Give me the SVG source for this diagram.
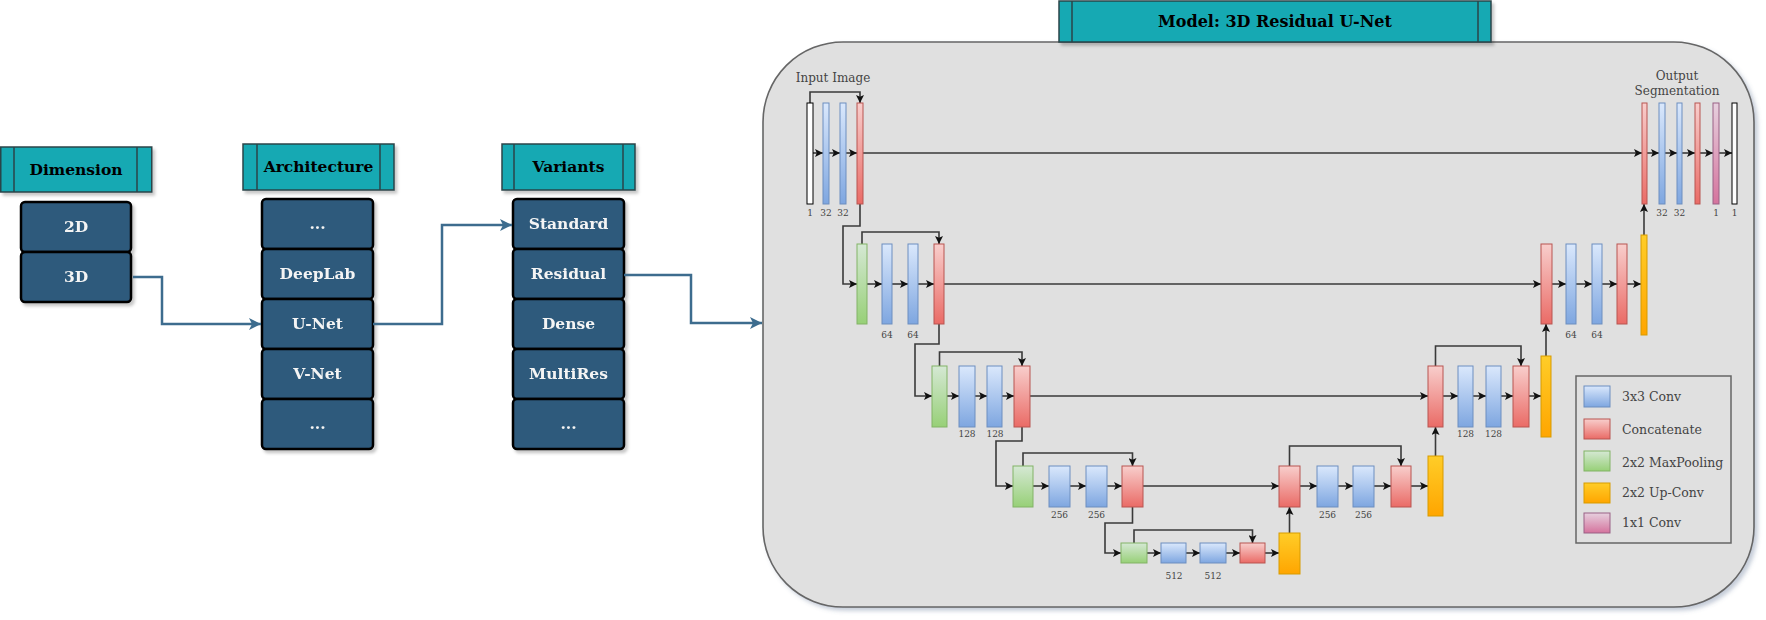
<svg xmlns="http://www.w3.org/2000/svg" width="1766" height="620" viewBox="0 0 1766 620">
  <defs>
    <style>
      .hdr { fill: #13a9b3; stroke: #2b4549; stroke-width: 1.5; }
      .hdr-line { stroke: #2b4549; stroke-width: 1.5; }
      .hdr-text { font-family: "DejaVu Serif", serif; font-weight: bold; font-size: 15.5px; fill: #000; text-anchor: middle; }
      .item { fill: #2e5a7b; stroke: #000; stroke-width: 2.5; }
      .item-text { font-family: "DejaVu Serif", serif; font-weight: bold; font-size: 15.5px; fill: #f4f4f4; text-anchor: middle; }
      .flow { fill: none; stroke: #3d6c8e; stroke-width: 2.5; }
      .net { fill: none; stroke: #3a3a3a; stroke-width: 1.6; }
      .bar { stroke-width: 1; }
      .conv { fill: url(#gBlue); stroke: #6c8ebf; }
      .cat { fill: url(#gRed); stroke: #b85450; }
      .pool { fill: url(#gGreen); stroke: #82b366; }
      .up { fill: url(#gOrange); stroke: #d79b00; }
      .one { fill: url(#gPink); stroke: #996185; }
      .img { fill: #ffffff; stroke: #000; }
      .lbl { font-family: "DejaVu Serif", serif; font-size: 9px; fill: #444; text-anchor: middle; }
      .cap { font-family: "DejaVu Serif", serif; font-size: 12px; fill: #444; text-anchor: middle; }
      .leg { font-family: "DejaVu Serif", serif; font-size: 12.5px; fill: #444; }
    </style>
    <linearGradient id="gBlue" x1="0" y1="0" x2="0" y2="1"><stop offset="0" stop-color="#dae8fc"/><stop offset="1" stop-color="#7ea6e0"/></linearGradient>
    <linearGradient id="gRed" x1="0" y1="0" x2="0" y2="1"><stop offset="0" stop-color="#f8cecc"/><stop offset="1" stop-color="#ea6b66"/></linearGradient>
    <linearGradient id="gGreen" x1="0" y1="0" x2="0" y2="1"><stop offset="0" stop-color="#d5e8d4"/><stop offset="1" stop-color="#97d077"/></linearGradient>
    <linearGradient id="gOrange" x1="0" y1="0" x2="0" y2="1"><stop offset="0" stop-color="#ffcd28"/><stop offset="1" stop-color="#ffa500"/></linearGradient>
    <linearGradient id="gPink" x1="0" y1="0" x2="0" y2="1"><stop offset="0" stop-color="#e6d0de"/><stop offset="1" stop-color="#d5739d"/></linearGradient>
    <filter id="shadow" x="-10%" y="-10%" width="130%" height="130%">
      <feDropShadow dx="2.5" dy="3" stdDeviation="1.5" flood-color="#000" flood-opacity="0.22"/>
    </filter>
    <filter id="shadowBox" x="-5%" y="-5%" width="110%" height="110%">
      <feDropShadow dx="3" dy="3" stdDeviation="2" flood-color="#5a7090" flood-opacity="0.35"/>
    </filter>
    <marker id="arrBlue" markerUnits="userSpaceOnUse" markerWidth="13" markerHeight="12" refX="12" refY="6" orient="auto">
      <path d="M0,0 L12,6 L0,12 L3,6 Z" fill="#3d6c8e"/>
    </marker>
    <marker id="arr" markerUnits="userSpaceOnUse" markerWidth="8" markerHeight="8" refX="8" refY="4" orient="auto">
      <path d="M0,0 L8,4 L0,8 L1.8,4 Z" fill="#111"/>
    </marker>
  </defs>

  <!-- left-hand selection columns -->
  <g id="dimension">
    <g filter="url(#shadow)">
      <rect class="hdr" x="0.75" y="147" width="151" height="45"/>
    </g>
    <line class="hdr-line" x1="14" y1="147" x2="14" y2="192"/>
    <line class="hdr-line" x1="137" y1="147" x2="137" y2="192"/>
    <text class="hdr-text" x="76" y="175">Dimension</text>
  </g>
  <g id="dim-2d" filter="url(#shadow)">
    <rect class="item" x="21" y="202" width="110" height="50" rx="4"/>
    <text class="item-text" x="76" y="232">2D</text>
  </g>
  <g id="dim-3d" filter="url(#shadow)">
    <rect class="item" x="21" y="252" width="110" height="50" rx="4"/>
    <text class="item-text" x="76" y="282">3D</text>
  </g>

  <g id="architecture">
    <g filter="url(#shadow)">
      <rect class="hdr" x="243" y="144" width="151" height="46"/>
    </g>
    <line class="hdr-line" x1="257" y1="144" x2="257" y2="190"/>
    <line class="hdr-line" x1="380" y1="144" x2="380" y2="190"/>
    <text class="hdr-text" x="318.5" y="172">Architecture</text>
  </g>
  <g id="arch-more-top" filter="url(#shadow)">
    <rect class="item" x="262" y="199" width="111" height="50" rx="4"/>
    <text class="item-text" x="317.5" y="229">...</text>
  </g>
  <g id="arch-deeplab" filter="url(#shadow)">
    <rect class="item" x="262" y="249" width="111" height="50" rx="4"/>
    <text class="item-text" x="317.5" y="279">DeepLab</text>
  </g>
  <g id="arch-unet" filter="url(#shadow)">
    <rect class="item" x="262" y="299" width="111" height="50" rx="4"/>
    <text class="item-text" x="317.5" y="329">U-Net</text>
  </g>
  <g id="arch-vnet" filter="url(#shadow)">
    <rect class="item" x="262" y="349" width="111" height="50" rx="4"/>
    <text class="item-text" x="317.5" y="379">V-Net</text>
  </g>
  <g id="arch-more-bottom" filter="url(#shadow)">
    <rect class="item" x="262" y="399" width="111" height="50" rx="4"/>
    <text class="item-text" x="317.5" y="429">...</text>
  </g>

  <g id="variants">
    <g filter="url(#shadow)">
      <rect class="hdr" x="502" y="144" width="133" height="46"/>
    </g>
    <line class="hdr-line" x1="514" y1="144" x2="514" y2="190"/>
    <line class="hdr-line" x1="623" y1="144" x2="623" y2="190"/>
    <text class="hdr-text" x="568.5" y="172">Variants</text>
  </g>
  <g id="var-standard" filter="url(#shadow)">
    <rect class="item" x="513" y="199" width="111" height="50" rx="4"/>
    <text class="item-text" x="568.5" y="229">Standard</text>
  </g>
  <g id="var-residual" filter="url(#shadow)">
    <rect class="item" x="513" y="249" width="111" height="50" rx="4"/>
    <text class="item-text" x="568.5" y="279">Residual</text>
  </g>
  <g id="var-dense" filter="url(#shadow)">
    <rect class="item" x="513" y="299" width="111" height="50" rx="4"/>
    <text class="item-text" x="568.5" y="329">Dense</text>
  </g>
  <g id="var-multires" filter="url(#shadow)">
    <rect class="item" x="513" y="349" width="111" height="50" rx="4"/>
    <text class="item-text" x="568.5" y="379">MultiRes</text>
  </g>
  <g id="var-more" filter="url(#shadow)">
    <rect class="item" x="513" y="399" width="111" height="50" rx="4"/>
    <text class="item-text" x="568.5" y="429">...</text>
  </g>

  <!-- selection flow -->
  <g id="flow-connectors">
    <path class="flow" d="M133,277 H162 V324 H261" marker-end="url(#arrBlue)"/>
    <path class="flow" d="M373,324 H442 V225 H512" marker-end="url(#arrBlue)"/>
    <path class="flow" d="M624,275 H691 V323 H762" marker-end="url(#arrBlue)"/>
  </g>

  <!-- model panel -->
  <g id="model">
    <rect x="763" y="42" width="991" height="565" rx="80" ry="80" fill="#e0e0e0" stroke="#666" stroke-width="1.6" filter="url(#shadowBox)"/>
    <g filter="url(#shadow)">
      <rect class="hdr" x="1059" y="1" width="432" height="41"/>
    </g>
    <line class="hdr-line" x1="1072" y1="1" x2="1072" y2="42"/>
    <line class="hdr-line" x1="1478" y1="1" x2="1478" y2="42"/>
    <text class="hdr-text" x="1275" y="27" style="font-size:16px">Model: 3D Residual U-Net</text>
  </g>

  <!-- network connectors -->
  <g id="net-connectors">
    <!-- level 1 encoder -->
    <path class="net" d="M813,153 H823" marker-end="url(#arr)"/>
    <path class="net" d="M829,153 H840" marker-end="url(#arr)"/>
    <path class="net" d="M846,153 H857" marker-end="url(#arr)"/>
    <path class="net" d="M810,103 V92 H860 V103" marker-end="url(#arr)"/>
    <path class="net" d="M863,153 H1642" marker-end="url(#arr)"/>
    <path class="net" d="M860,204 V226 H843 V284 H857" marker-end="url(#arr)"/>
    <!-- level 2 encoder -->
    <path class="net" d="M867,284 H882" marker-end="url(#arr)"/>
    <path class="net" d="M892,284 H908" marker-end="url(#arr)"/>
    <path class="net" d="M918,284 H934" marker-end="url(#arr)"/>
    <path class="net" d="M862,244 V232 H939 V244" marker-end="url(#arr)"/>
    <path class="net" d="M944,284 H1541" marker-end="url(#arr)"/>
    <path class="net" d="M939,324 V344 H915 V396 H932" marker-end="url(#arr)"/>
    <!-- level 3 encoder -->
    <path class="net" d="M947,396 H959" marker-end="url(#arr)"/>
    <path class="net" d="M975,396 H987" marker-end="url(#arr)"/>
    <path class="net" d="M1002,396 H1014" marker-end="url(#arr)"/>
    <path class="net" d="M939.5,366 V352 H1022 V366" marker-end="url(#arr)"/>
    <path class="net" d="M1030,396 H1428" marker-end="url(#arr)"/>
    <path class="net" d="M1022,427 V441 H996 V486 H1013" marker-end="url(#arr)"/>
    <!-- level 4 encoder -->
    <path class="net" d="M1033,486 H1049" marker-end="url(#arr)"/>
    <path class="net" d="M1070,486 H1086" marker-end="url(#arr)"/>
    <path class="net" d="M1107,486 H1122" marker-end="url(#arr)"/>
    <path class="net" d="M1023,466 V453 H1132.5 V466" marker-end="url(#arr)"/>
    <path class="net" d="M1143,486 H1279" marker-end="url(#arr)"/>
    <path class="net" d="M1132.5,507 V523 H1105 V553 H1121" marker-end="url(#arr)"/>
    <!-- bottleneck -->
    <path class="net" d="M1147,553 H1161" marker-end="url(#arr)"/>
    <path class="net" d="M1186,553 H1200" marker-end="url(#arr)"/>
    <path class="net" d="M1226,553 H1240" marker-end="url(#arr)"/>
    <path class="net" d="M1265,553 H1279" marker-end="url(#arr)"/>
    <path class="net" d="M1134,543 V530 H1252.5 V543" marker-end="url(#arr)"/>
    <path class="net" d="M1289.5,533 V507" marker-end="url(#arr)"/>
    <!-- level 4 decoder -->
    <path class="net" d="M1300,486 H1317" marker-end="url(#arr)"/>
    <path class="net" d="M1338,486 H1353" marker-end="url(#arr)"/>
    <path class="net" d="M1374,486 H1391" marker-end="url(#arr)"/>
    <path class="net" d="M1411,486 H1428" marker-end="url(#arr)"/>
    <path class="net" d="M1289.5,466 V446 H1401 V466" marker-end="url(#arr)"/>
    <path class="net" d="M1435.5,456 V427" marker-end="url(#arr)"/>
    <!-- level 3 decoder -->
    <path class="net" d="M1443,396 H1458" marker-end="url(#arr)"/>
    <path class="net" d="M1473,396 H1486" marker-end="url(#arr)"/>
    <path class="net" d="M1501,396 H1513" marker-end="url(#arr)"/>
    <path class="net" d="M1529,396 H1541" marker-end="url(#arr)"/>
    <path class="net" d="M1435.5,366 V346 H1521 V366" marker-end="url(#arr)"/>
    <path class="net" d="M1546,356 V324" marker-end="url(#arr)"/>
    <!-- level 2 decoder -->
    <path class="net" d="M1552,284 H1566" marker-end="url(#arr)"/>
    <path class="net" d="M1576,284 H1592" marker-end="url(#arr)"/>
    <path class="net" d="M1602,284 H1617" marker-end="url(#arr)"/>
    <path class="net" d="M1627,284 H1641" marker-end="url(#arr)"/>
    <path class="net" d="M1644,235 V204" marker-end="url(#arr)"/>
    <!-- level 1 decoder -->
    <path class="net" d="M1647,153 H1659" marker-end="url(#arr)"/>
    <path class="net" d="M1665,153 H1677" marker-end="url(#arr)"/>
    <path class="net" d="M1682,153 H1695" marker-end="url(#arr)"/>
    <path class="net" d="M1700,153 H1713" marker-end="url(#arr)"/>
    <path class="net" d="M1719,153 H1732" marker-end="url(#arr)"/>
  </g>

  <!-- encoder level 1 -->
  <g id="enc1">
    <text class="cap" x="833" y="82">Input Image</text>
    <rect class="bar img" x="807" y="103" width="6" height="101"/>
    <rect class="bar conv" x="823" y="103" width="6" height="101"/>
    <rect class="bar conv" x="840" y="103" width="6" height="101"/>
    <rect class="bar cat" x="857" y="103" width="6" height="101"/>
    <text class="lbl" x="810" y="216">1</text>
    <text class="lbl" x="826" y="216">32</text>
    <text class="lbl" x="843" y="216">32</text>
  </g>
  <!-- encoder level 2 -->
  <g id="enc2">
    <rect class="bar pool" x="857" y="244" width="10" height="80"/>
    <rect class="bar conv" x="882" y="244" width="10" height="80"/>
    <rect class="bar conv" x="908" y="244" width="10" height="80"/>
    <rect class="bar cat" x="934" y="244" width="10" height="80"/>
    <text class="lbl" x="887" y="338">64</text>
    <text class="lbl" x="913" y="338">64</text>
  </g>
  <!-- encoder level 3 -->
  <g id="enc3">
    <rect class="bar pool" x="932" y="366" width="15" height="61"/>
    <rect class="bar conv" x="959" y="366" width="16" height="61"/>
    <rect class="bar conv" x="987" y="366" width="15" height="61"/>
    <rect class="bar cat" x="1014" y="366" width="16" height="61"/>
    <text class="lbl" x="967" y="437">128</text>
    <text class="lbl" x="995" y="437">128</text>
  </g>
  <!-- encoder level 4 -->
  <g id="enc4">
    <rect class="bar pool" x="1013" y="466" width="20" height="41"/>
    <rect class="bar conv" x="1049" y="466" width="21" height="41"/>
    <rect class="bar conv" x="1086" y="466" width="21" height="41"/>
    <rect class="bar cat" x="1122" y="466" width="21" height="41"/>
    <text class="lbl" x="1059.5" y="518">256</text>
    <text class="lbl" x="1096.5" y="518">256</text>
  </g>
  <!-- bottleneck -->
  <g id="bottleneck">
    <rect class="bar pool" x="1121" y="543" width="26" height="20"/>
    <rect class="bar conv" x="1161" y="543" width="25" height="20"/>
    <rect class="bar conv" x="1200" y="543" width="26" height="20"/>
    <rect class="bar cat" x="1240" y="543" width="25" height="20"/>
    <rect class="bar up" x="1279" y="533" width="21" height="41"/>
    <text class="lbl" x="1174" y="579">512</text>
    <text class="lbl" x="1213" y="579">512</text>
  </g>
  <!-- decoder level 4 -->
  <g id="dec4">
    <rect class="bar cat" x="1279" y="466" width="21" height="41"/>
    <rect class="bar conv" x="1317" y="466" width="21" height="41"/>
    <rect class="bar conv" x="1353" y="466" width="21" height="41"/>
    <rect class="bar cat" x="1391" y="466" width="20" height="41"/>
    <rect class="bar up" x="1428" y="456" width="15" height="60"/>
    <text class="lbl" x="1327.5" y="518">256</text>
    <text class="lbl" x="1363.5" y="518">256</text>
  </g>
  <!-- decoder level 3 -->
  <g id="dec3">
    <rect class="bar cat" x="1428" y="366" width="15" height="61"/>
    <rect class="bar conv" x="1458" y="366" width="15" height="61"/>
    <rect class="bar conv" x="1486" y="366" width="15" height="61"/>
    <rect class="bar cat" x="1513" y="366" width="16" height="61"/>
    <rect class="bar up" x="1541" y="356" width="10" height="81"/>
    <text class="lbl" x="1465.5" y="437">128</text>
    <text class="lbl" x="1493.5" y="437">128</text>
  </g>
  <!-- decoder level 2 -->
  <g id="dec2">
    <rect class="bar cat" x="1541" y="244" width="11" height="80"/>
    <rect class="bar conv" x="1566" y="244" width="10" height="80"/>
    <rect class="bar conv" x="1592" y="244" width="10" height="80"/>
    <rect class="bar cat" x="1617" y="244" width="10" height="80"/>
    <rect class="bar up" x="1641" y="235" width="6" height="100"/>
    <text class="lbl" x="1571" y="338">64</text>
    <text class="lbl" x="1597" y="338">64</text>
  </g>
  <!-- decoder level 1 / output -->
  <g id="dec1">
    <text class="cap" x="1677" y="80">Output</text>
    <text class="cap" x="1677" y="95">Segmentation</text>
    <rect class="bar cat" x="1642" y="103" width="5" height="101"/>
    <rect class="bar conv" x="1659" y="103" width="6" height="101"/>
    <rect class="bar conv" x="1677" y="103" width="5" height="101"/>
    <rect class="bar cat" x="1695" y="103" width="5" height="101"/>
    <rect class="bar one" x="1713" y="103" width="6" height="101"/>
    <rect class="bar img" x="1732" y="103" width="5" height="101"/>
    <text class="lbl" x="1662" y="216">32</text>
    <text class="lbl" x="1679.5" y="216">32</text>
    <text class="lbl" x="1716" y="216">1</text>
    <text class="lbl" x="1734.5" y="216">1</text>
  </g>

  <!-- legend -->
  <g id="legend">
    <rect x="1576" y="376" width="155" height="167" fill="none" stroke="#666" stroke-width="1.5"/>
    <rect class="bar conv" x="1584" y="386" width="26" height="21"/>
    <text class="leg" x="1622" y="401">3x3 Conv</text>
    <rect class="bar cat" x="1584" y="419" width="26" height="20"/>
    <text class="leg" x="1622" y="434">Concatenate</text>
    <rect class="bar pool" x="1584" y="451" width="26" height="20"/>
    <text class="leg" x="1622" y="467">2x2 MaxPooling</text>
    <rect class="bar up" x="1584" y="483" width="26" height="20"/>
    <text class="leg" x="1622" y="497">2x2 Up-Conv</text>
    <rect class="bar one" x="1584" y="513" width="26" height="20"/>
    <text class="leg" x="1622" y="527">1x1 Conv</text>
  </g>
</svg>
